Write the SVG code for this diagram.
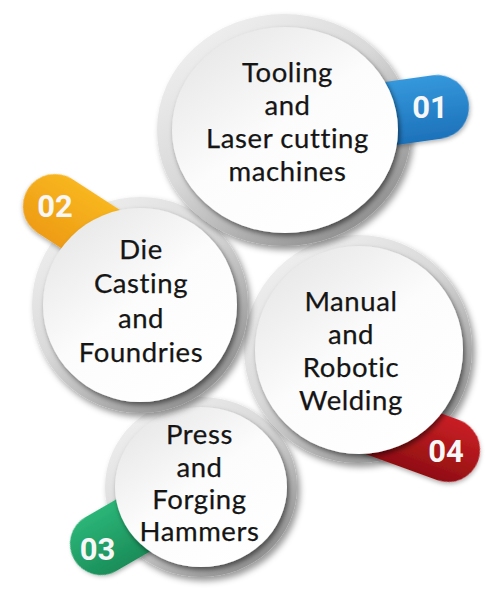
<svg xmlns="http://www.w3.org/2000/svg" width="486" height="590" viewBox="0 0 486 590">
  <defs>
    <linearGradient id="ringGrad" x1="0.1" y1="0" x2="0.85" y2="1">
      <stop offset="0" stop-color="#f4f4f4"/>
      <stop offset="0.45" stop-color="#d9d9d9"/>
      <stop offset="1" stop-color="#858585"/>
    </linearGradient>
    <linearGradient id="discGrad" x1="0.1" y1="0.05" x2="0.8" y2="0.95">
      <stop offset="0" stop-color="#e6e6e6"/>
      <stop offset="0.5" stop-color="#fcfcfc"/>
      <stop offset="1" stop-color="#ffffff"/>
    </linearGradient>
    <linearGradient id="blueGrad" x1="0" y1="0" x2="0" y2="1">
      <stop offset="0" stop-color="#3598dc"/>
      <stop offset="1" stop-color="#1d72ba"/>
    </linearGradient>
    <linearGradient id="orangeGrad" x1="0" y1="0" x2="0" y2="1">
      <stop offset="0" stop-color="#f8b620"/>
      <stop offset="1" stop-color="#ee9c14"/>
    </linearGradient>
    <linearGradient id="greenGrad" x1="0" y1="0" x2="0" y2="1">
      <stop offset="0" stop-color="#2bb577"/>
      <stop offset="1" stop-color="#1b8d59"/>
    </linearGradient>
    <linearGradient id="redGrad" x1="0" y1="0" x2="0" y2="1">
      <stop offset="0" stop-color="#c91f25"/>
      <stop offset="1" stop-color="#900e11"/>
    </linearGradient>
    <filter id="ringShadow" x="-20%" y="-20%" width="140%" height="140%">
      <feDropShadow dx="3" dy="4" stdDeviation="3" flood-color="#000" flood-opacity="0.4"/>
    </filter>
    <filter id="discShadow" x="-20%" y="-20%" width="140%" height="140%">
      <feDropShadow dx="2" dy="3" stdDeviation="2.5" flood-color="#000" flood-opacity="0.5"/>
    </filter>
    <filter id="tabShadow" x="-30%" y="-30%" width="160%" height="160%">
      <feDropShadow dx="1" dy="2" stdDeviation="2" flood-color="#000" flood-opacity="0.3"/>
    </filter>
  </defs>
  <style>
    .ring { fill: url(#ringGrad); filter: url(#ringShadow); }
    .disc { fill: url(#discGrad); filter: url(#discShadow); }
    .tab { filter: url(#tabShadow); }
    .label { font-family: Lato, "Open Sans", "Liberation Sans", sans-serif; font-size: 27.5px; letter-spacing: 0.6px; fill: #151515; stroke: #151515; stroke-width: 0.25px; text-anchor: middle; }
    .num { font-family: Roboto, "Liberation Sans", sans-serif; font-weight: 700; font-size: 31px; fill: #f7f7f7; text-anchor: middle; }
  </style>
  <rect width="486" height="590" fill="#ffffff"/>
  <g id="connectors"/>

  <g id="node-03">
    <ellipse class="ring" cx="201" cy="487" rx="96" ry="90"/>
    <path class="tab" fill="url(#greenGrad)" d="M 80 -31 H 0 A 31 31 0 0 0 0 31 H 80 Z" transform="translate(101,544) rotate(-30)"/>
    <text class="num" x="97.5" y="560">03</text>
    <ellipse class="disc" cx="201" cy="487" rx="86" ry="80"/>
    <text class="label" x="199.5" y="444">Press</text>
    <text class="label" x="199.5" y="477">and</text>
    <text class="label" x="199.5" y="509">Forging</text>
    <text class="label" x="199.5" y="541">Hammers</text>
  </g>

  <g id="node-04">
    <circle class="ring" cx="358" cy="349" r="114"/>
    <path class="tab" fill="url(#redGrad)" d="M -80 -32 H 0 A 32 32 0 0 1 0 32 H -80 Z" transform="translate(448,450) rotate(20)"/>
    <text class="num" x="446" y="462">04</text>
    <circle class="disc" cx="359" cy="350" r="104"/>
    <text class="label" x="351" y="311">Manual</text>
    <text class="label" x="351" y="344">and</text>
    <text class="label" x="351" y="377">Robotic</text>
    <text class="label" x="351" y="410">Welding</text>
  </g>

  <g id="node-02">
    <circle class="ring" cx="140" cy="305" r="108"/>
    <path class="tab" fill="url(#orangeGrad)" d="M 80 -32 H 0 A 32 32 0 0 0 0 32 H 80 Z" transform="translate(55,206) rotate(33)"/>
    <text class="num" x="55" y="217">02</text>
    <circle class="disc" cx="140" cy="305" r="97"/>
    <text class="label" x="141" y="259">Die</text>
    <text class="label" x="141" y="293">Casting</text>
    <text class="label" x="141" y="328">and</text>
    <text class="label" x="141" y="362">Foundries</text>
  </g>

  <g id="node-01">
    <ellipse class="ring" cx="284" cy="130" rx="127" ry="116"/>
    <path class="tab" fill="url(#blueGrad)" d="M -80 -32 H 0 A 32 32 0 0 1 0 32 H -80 Z" transform="translate(437,107) rotate(-8)"/>
    <text class="num" x="430" y="118">01</text>
    <ellipse class="disc" cx="285" cy="130" rx="113" ry="103"/>
    <text class="label" x="287.5" y="82">Tooling</text>
    <text class="label" x="287.5" y="115">and</text>
    <text class="label" x="287.5" y="148">Laser cutting</text>
    <text class="label" x="287.5" y="181">machines</text>
  </g>
</svg>
